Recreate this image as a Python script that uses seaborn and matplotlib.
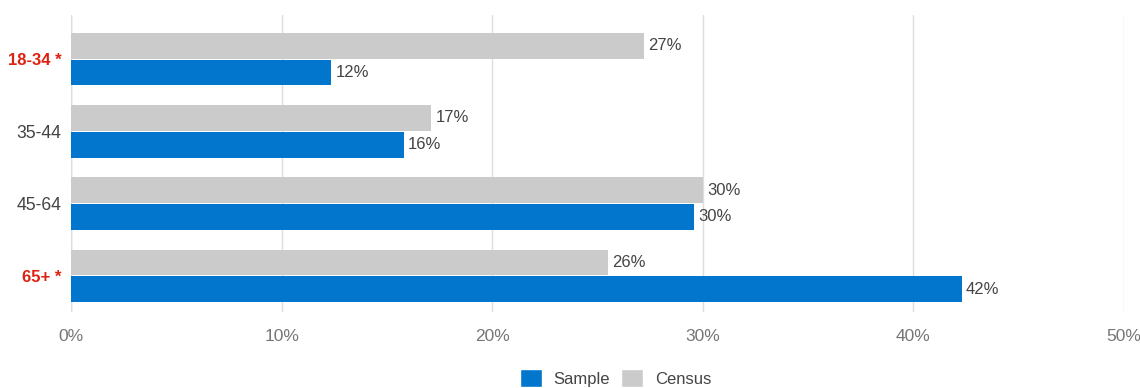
import matplotlib
matplotlib.use("Agg")
import matplotlib.pyplot as plt
from matplotlib.patches import Patch
import pandas as pd
import seaborn as sns

# Age groups and shares (percent)
age_groups = ["18-34 *", "35-44", "45-64", "65+ *"]
sample_pct = [12.35, 15.8, 29.6, 42.3]
census_pct = [27.2, 17.1, 30.0, 25.5]
flagged = [True, False, False, True]
x_ticks = [0, 10, 20, 30, 40, 50]

BLUE = "#0176cc"
GRAY = "#cbcbcb"
TEXT = "#444444"
TICK = "#757575"
RED = "#dd2211"

sns.set_theme(style="white")
plt.rcParams["font.family"] = ["Liberation Sans", "DejaVu Sans"]

df = pd.DataFrame({
    "age": age_groups * 2,
    "pct": census_pct + sample_pct,
    "series": ["Census"] * len(age_groups) + ["Sample"] * len(age_groups),
})

fig = plt.figure(figsize=(11.4, 3.88), dpi=100)
ax = fig.add_axes([0.0623, 0.196, 0.9237, 0.7653])

sns.barplot(
    data=df, y="age", x="pct", hue="series", hue_order=["Census", "Sample"],
    order=age_groups, palette={"Census": GRAY, "Sample": BLUE},
    orient="h", width=0.74, gap=0.04, saturation=1, linewidth=0,
    legend=False, ax=ax,
)

for cont in ax.containers:
    ax.bar_label(cont, labels=[f"{b.get_width():.0f}%" for b in cont],
                 padding=3, color=TEXT, fontsize=12)

ax.set_xlim(0, 50)
ax.set_ylim(3.5, -0.61)
ax.set_xticks(x_ticks)
ax.set_xticklabels([f"{t}%" for t in x_ticks], color=TICK, fontsize=12.5)
ax.tick_params(axis="x", length=0, pad=12)
ax.tick_params(axis="y", length=0, pad=7)
ax.set_xlabel("")
ax.set_ylabel("")
ax.grid(axis="x", color="#dddddd", linewidth=1)
ax.set_axisbelow(True)
for s in ax.spines.values():
    s.set_visible(False)
ax.axvline(0, color="#cccccc", linewidth=1, zorder=0.5)

for lbl, flag in zip(ax.get_yticklabels(), flagged):
    if flag:
        lbl.set_fontsize(12)
        lbl.set_color(RED)
        lbl.set_fontweight("bold")
    else:
        lbl.set_fontsize(12.7)
        lbl.set_color(TEXT)

handles = [Patch(facecolor=BLUE, label="Sample"), Patch(facecolor=GRAY, label="Census")]
fig.legend(handles=handles, loc="center", bbox_to_anchor=(0.54, 0.025), ncol=2,
           frameon=False, handlelength=1.3, handleheight=1.3, handletextpad=0.7,
           columnspacing=0.7, fontsize=12, labelcolor=TEXT)

fig.savefig("out.png", dpi=100)
